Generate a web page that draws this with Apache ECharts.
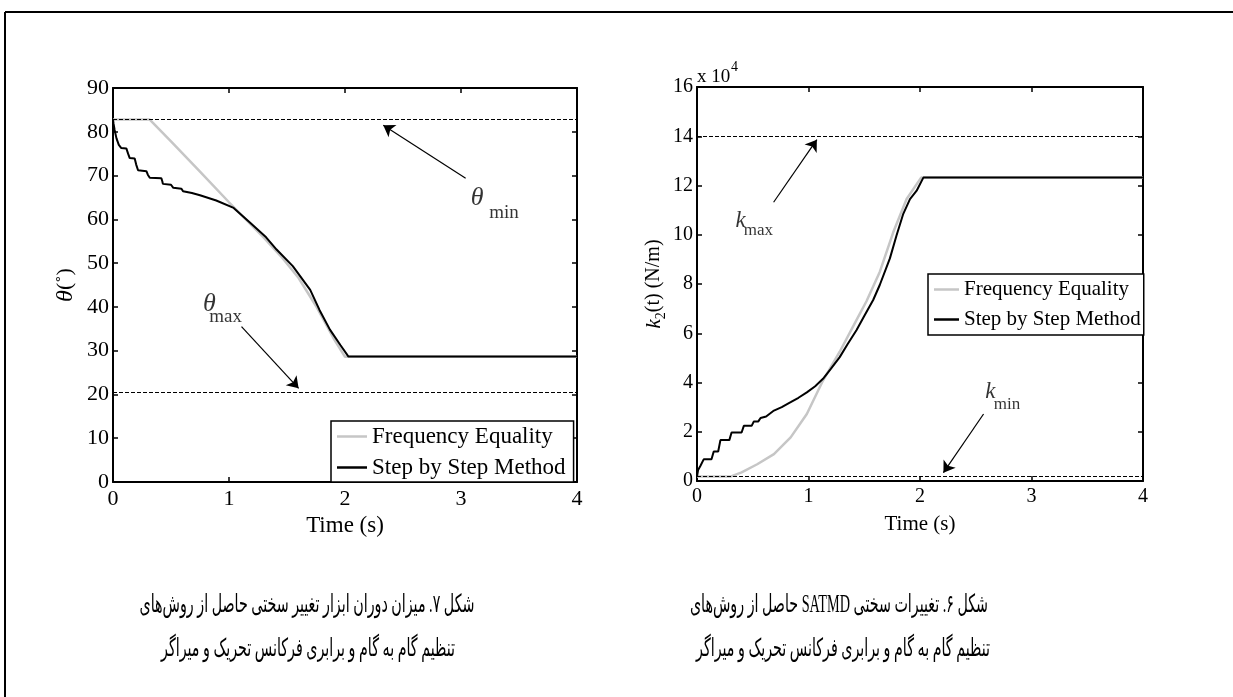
<!DOCTYPE html>
<html>
<head>
<meta charset="utf-8">
<script src="https://cdn.jsdelivr.net/npm/echarts@6/dist/echarts.min.js"></script>
<style>
html,body{margin:0;padding:0;background:#fff;}
#chart{width:1233px;height:697px;}
</style>
</head>
<body>
<div id="chart"></div>
<script>
// ---------- data ----------
const timeTicks = [0, 1, 2, 3, 4];
const seriesNames = ['Frequency Equality', 'Step by Step Method'];

// Fig. 7 : theta (deg)
const thetaFreqT = [0, 0.317, 0.5, 0.75, 1.0, 1.14, 1.3, 1.45, 1.6, 1.75, 1.9, 2.0, 4.0];
const thetaFreq  = [82.8, 82.8, 77.8, 70.9, 63.9, 60.1, 55.8, 51.5, 46.6, 40.2, 32.9, 28.6, 28.6];
const thetaStepT = [0, 0.005, 0.014, 0.03, 0.05, 0.07, 0.115, 0.13, 0.144, 0.187, 0.2, 0.216, 0.288, 0.30, 0.317, 0.417, 0.425, 0.43, 0.5, 0.51, 0.52, 0.59, 0.6, 0.604, 0.68, 0.75, 0.89, 1.04, 1.18, 1.32, 1.41, 1.55, 1.70, 1.78, 1.87, 1.96, 2.03, 4.0];
const thetaStep  = [82.8, 81.8, 80.4, 78.5, 77.0, 76.3, 76.2, 75.0, 74.0, 73.9, 72.5, 71.2, 71.0, 70.2, 69.5, 69.4, 68.7, 68.1, 67.9, 67.5, 67.2, 67.0, 66.7, 66.4, 66.0, 65.5, 64.3, 62.6, 59.3, 55.9, 53.1, 49.3, 43.9, 39.3, 34.8, 31.3, 28.65, 28.65];
const thetaBounds = [82.8, 20.4];           // theta_min line, theta_max line
const thetaSymPts = [[3.14, 64.9], [0.83, 40.7]];
const thetaSubPts = [[3.37, 61.4], [0.97, 37.8]];
const thetaSubTxt = ['min', 'max'];
const thetaArrows = [[[3.04, 69.4], [2.33, 81.5]], [[1.108, 35.5], [1.6, 21.4]]];

// Fig. 6 : k2 (x 10^4 N/m)
const kFreqT = [0, 0.30, 0.40, 0.54, 0.69, 0.84, 0.985, 1.13, 1.28, 1.43, 1.52, 1.64, 1.76, 1.88, 2.01, 4.0];
const kFreq  = [0.18, 0.18, 0.35, 0.68, 1.09, 1.77, 2.72, 4.08, 5.25, 6.53, 7.3, 8.5, 10.1, 11.45, 12.32, 12.32];
const kStepT = [0, 0.01, 0.03, 0.06, 0.13, 0.15, 0.19, 0.21, 0.29, 0.31, 0.40, 0.42, 0.49, 0.51, 0.55, 0.57, 0.62, 0.69, 0.76, 0.84, 0.91, 0.985, 1.06, 1.13, 1.2, 1.28, 1.35, 1.43, 1.5, 1.58, 1.64, 1.73, 1.79, 1.85, 1.91, 1.97, 2.03, 4.0];
const kStep  = [0.18, 0.45, 0.61, 0.88, 0.88, 1.2, 1.2, 1.66, 1.66, 1.97, 1.97, 2.24, 2.24, 2.42, 2.42, 2.56, 2.62, 2.86, 3.0, 3.2, 3.38, 3.6, 3.85, 4.15, 4.55, 5.03, 5.55, 6.12, 6.7, 7.35, 7.97, 9.04, 9.98, 10.85, 11.45, 11.79, 12.32, 12.32];
const kBounds = [14.0, 0.18];               // k_max line, k_min line
const kSymPts = [[0.39, 10.58], [2.63, 3.6]];
const kSubPts = [[0.55, 10.18], [2.78, 3.1]];
const kSubTxt = ['max', 'min'];
const kArrows = [[[0.687, 11.32], [1.075, 13.86]], [[2.57, 2.72], [2.21, 0.34]]];

const captionLeft  = ['شکل ۷. میزان دوران ابزار تغییر سختی حاصل از روش‌های', 'تنظیم گام به گام و برابری فرکانس تحریک و میراگر'];
const captionRight = ['شکل ۶. تغییرات سختی SATMD حاصل از روش‌های', 'تنظیم گام به گام و برابری فرکانس تحریک و میراگر'];

// ---------- chart ----------
const FONT = '"Liberation Serif", "Times New Roman", serif';
const zip = (a, b) => a.map((v, i) => [v, b[i]]);

const chart = echarts.init(document.getElementById('chart'), null, {renderer: 'canvas'});

const lineAx = {show: true, onZero: false, lineStyle: {color: '#000', width: 2}};
const tickAx = {show: true, inside: true, length: 5, lineStyle: {color: '#000', width: 1.5}};

function xAx(grid, pos, fs, gap) {
  const o = {
    gridIndex: grid, type: 'value', min: timeTicks[0], max: timeTicks[timeTicks.length - 1], interval: 1,
    position: pos, axisLine: lineAx, axisTick: tickAx, splitLine: {show: false},
    axisLabel: {show: pos === 'bottom', color: '#000', fontFamily: FONT, fontSize: fs, margin: 6}
  };
  if (pos === 'bottom') {
    o.name = 'Time (s)'; o.nameLocation = 'middle'; o.nameGap = gap;
    o.nameTextStyle = {color: '#000', fontFamily: FONT, fontSize: fs + 1};
  }
  return o;
}
function yAx(grid, pos, max, interval, fs, name, gap, rich) {
  const o = {
    gridIndex: grid, type: 'value', min: 0, max: max, interval: interval, position: pos,
    axisLine: lineAx, axisTick: tickAx, splitLine: {show: false},
    axisLabel: {show: pos === 'left', color: '#000', fontFamily: FONT, fontSize: fs, margin: 4}
  };
  if (name) {
    o.name = name; o.nameLocation = 'middle'; o.nameGap = gap;
    o.nameTextStyle = {color: '#000', fontFamily: FONT, fontSize: fs, rich: rich};
  }
  return o;
}

const richLeft = {
  i: {fontFamily: FONT, fontStyle: 'italic', fontSize: 24, color: '#000', lineHeight: 26, verticalAlign: 'top'},
  n: {fontFamily: FONT, fontSize: 22, color: '#000', lineHeight: 26, verticalAlign: 'top'}
};
const richRight = {
  i: {fontFamily: FONT, fontStyle: 'italic', fontSize: 21, color: '#000', lineHeight: 24, verticalAlign: 'top'},
  n: {fontFamily: FONT, fontSize: 20, color: '#000', lineHeight: 24, verticalAlign: 'top'},
  s: {fontFamily: FONT, fontSize: 14, color: '#000', lineHeight: 14, verticalAlign: 'bottom'}
};

function freqSeries(xi, yi, t, v) {
  return {name: seriesNames[0], type: 'line', xAxisIndex: xi, yAxisIndex: yi, data: zip(t, v),
    symbol: 'none', showSymbol: false, lineStyle: {color: '#c6c6c6', width: 2.5}, itemStyle: {color: '#c6c6c6'}, z: 2};
}
function stepSeries(xi, yi, t, v, bounds) {
  return {name: seriesNames[1], type: 'line', xAxisIndex: xi, yAxisIndex: yi, data: zip(t, v),
    symbol: 'none', showSymbol: false, lineStyle: {color: '#000', width: 2}, itemStyle: {color: '#000'}, z: 3,
    markLine: {silent: true, symbol: ['none', 'none'], label: {show: false}, animation: false,
      lineStyle: {type: [4, 2], color: '#000', width: 1},
      data: bounds.map(b => ({yAxis: b}))}};
}
function annoSeries(xi, yi, pts, texts, italic, size, arrows) {
  const s = {type: 'scatter', xAxisIndex: xi, yAxisIndex: yi, symbol: 'circle', symbolSize: 1,
    itemStyle: {color: 'rgba(0,0,0,0)'}, silent: true, z: 5,
    data: pts.map((p, i) => ({value: p, name: texts[i]})),
    label: {show: true, position: 'inside', formatter: '{b}', color: '#000', fontFamily: FONT,
      fontStyle: italic ? 'italic' : 'normal', fontSize: size}};
  if (arrows) {
    s.markLine = {silent: true, symbol: ['none', 'arrow'], symbolSize: 11, label: {show: false}, animation: false,
      lineStyle: {type: 'solid', color: '#000', width: 1.2},
      data: arrows.map(a => [{coord: a[0]}, {coord: a[1]}])};
  }
  return s;
}

function legendFor(left, top, fs, iw, gap, pad) {
  return {
    data: [
      {name: seriesNames[0], icon: 'rect', itemStyle: {color: '#c6c6c6'}},
      {name: seriesNames[1], icon: 'rect', itemStyle: {color: '#000'}}
    ],
    orient: 'vertical', left: left, top: top, itemWidth: iw, itemHeight: 2.5, itemGap: gap,
    backgroundColor: '#fff', borderColor: '#000', borderWidth: 1.5, borderRadius: 0,
    padding: pad, selectedMode: false,
    textStyle: {color: '#000', fontFamily: FONT, fontSize: fs}
  };
}

const option = {
  animation: false,
  backgroundColor: '#fff',
  grid: [
    {left: 113, top: 88, width: 464, height: 394},
    {left: 697, top: 87, width: 446, height: 394}
  ],
  xAxis: [xAx(0, 'bottom', 22, 29), xAx(0, 'top', 22), xAx(1, 'bottom', 20, 33), xAx(1, 'top', 20)],
  yAxis: [
    yAx(0, 'left', 90, 10, 22, '{i|θ}{n|(˚)}', 33, richLeft),
    yAx(0, 'right', 90, 10, 22),
    yAx(1, 'left', 16, 2, 20, '{i|k}{s|2}{n|(t) (N/m)}', 29, richRight),
    yAx(1, 'right', 16, 2, 20)
  ],
  legend: [
    legendFor(331, 421, 23, 30, 8, [4, 8, 3, 6]),
    legendFor(928, 274, 21, 25, 9, [5, 3, 5, 6])
  ],
  series: [
    freqSeries(0, 0, thetaFreqT, thetaFreq),
    stepSeries(0, 0, thetaStepT, thetaStep, thetaBounds),
    annoSeries(0, 0, thetaSymPts, ['θ', 'θ'], true, 26, thetaArrows),
    annoSeries(0, 0, thetaSubPts, thetaSubTxt, false, 19),
    freqSeries(2, 2, kFreqT, kFreq),
    stepSeries(2, 2, kStepT, kStep, kBounds),
    annoSeries(2, 2, kSymPts, ['k', 'k'], true, 23, kArrows),
    annoSeries(2, 2, kSubPts, kSubTxt, false, 17)
  ]
};
chart.setOption(option);

// exponent label and captions
const corner = chart.convertToPixel({gridIndex: 1}, [0, 16]);
const RLE = '\u202B', PDF = '\u202C';
const capFont = '25px "Liberation Serif", "DejaVu Sans", sans-serif';
function cap(text, x, y) {
  return {type: 'text', silent: true, x: x, y: y, scaleX: 0.57, scaleY: 1,
    style: {text: RLE + text + PDF, x: 0, y: 0, font: capFont,
    fill: '#000', align: 'center', verticalAlign: 'middle'}};
}
chart.setOption({
  graphic: [
    {type: 'line', silent: true, shape: {x1: 5, y1: 12, x2: 1233, y2: 12}, style: {stroke: '#000', lineWidth: 2}},
    {type: 'line', silent: true, shape: {x1: 5, y1: 12, x2: 5, y2: 697}, style: {stroke: '#000', lineWidth: 2}},
    {type: 'text', silent: true, style: {text: 'x 10', x: corner[0], y: corner[1] - 10, font: '19px ' + FONT,
      fill: '#000', align: 'left', verticalAlign: 'middle'}},
    {type: 'text', silent: true, style: {text: '4', x: corner[0] + 34, y: corner[1] - 20, font: '14px ' + FONT,
      fill: '#000', align: 'left', verticalAlign: 'middle'}},
    cap(captionLeft[0], 307, 605),
    cap(captionLeft[1], 308, 649),
    cap(captionRight[0], 839, 605),
    cap(captionRight[1], 843, 649)
  ]
});
</script>
</body>
</html>
